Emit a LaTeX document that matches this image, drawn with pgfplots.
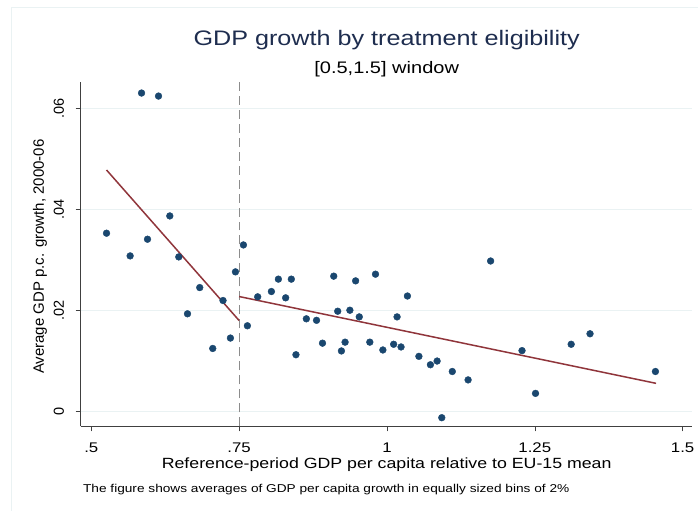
\documentclass[border=0pt]{standalone}
\usepackage{pgfplots}
\pgfplotsset{compat=1.18}
\usepackage{fontspec}
\setmainfont{Liberation Sans}
\definecolor{stnavy}{HTML}{1A476F}
\definecolor{stmaroon}{HTML}{90353B}
\definecolor{stgrid}{HTML}{EAF2F3}
\definecolor{sttitle}{HTML}{1E2D4F}
\newcommand{\wide}[1]{\scalebox{1.2}[1]{#1}}
\begin{document}
\begin{tikzpicture}
\fill[white] (0pt,0pt) rectangle (699pt,511pt);
\draw[stgrid, line width=1.2pt] (11.5pt,0pt) -- (11.5pt,503.5pt) -- (699pt,503.5pt);
\begin{axis}[
    at={(80.7pt,84.3pt)}, anchor=south west,
    width=612pt, height=344.7pt, scale only axis,
    xmin=0.482, xmax=1.516,
    ymin=-0.00296, ymax=0.0652,
    axis x line*=bottom, axis y line*=left,
    axis line style={black!75, -},
    xtick={0.5,0.75,1,1.25,1.5},
    xticklabels={\wide{.5},\wide{.75},\wide{1},\wide{1.25},\wide{1.5}},
    ytick={0,0.02,0.04,0.06},
    yticklabels={0,.02,.04,.06},
    scaled y ticks=false,
    yticklabel style={rotate=90, anchor=south, font=\fontsize{14.5}{14.5}\selectfont},
    xticklabel style={font=\fontsize{14}{14}\selectfont},
    xticklabel shift=8pt,
    yticklabel shift=8pt,
    tick align=outside, major tick length=5pt,
    tick style={black!75, line width=0.6pt},
    ymajorgrids, grid style={stgrid, line width=1pt},
    clip=false,
  ]
  % vertical cutoff
  \addplot[gray!90, line width=1pt, dash pattern=on 9pt off 5pt] coordinates {(0.75,-0.00296) (0.75,0.0652)};
  % binned averages
  \addplot[only marks, mark=*, mark size=3.4pt, color=stnavy] coordinates {
    (0.5258,0.03526) (0.585,0.0630) (0.6137,0.0624) (0.5657,0.03077)
    (0.5951,0.03407) (0.6328,0.03868) (0.648,0.03057) (0.6627,0.01931)
    (0.6834,0.0245) (0.7054,0.01245) (0.7228,0.02194) (0.7353,0.01451)
    (0.7438,0.02761) (0.7573,0.03294) (0.764,0.01694) (0.7814,0.02267)
    (0.8046,0.02372) (0.8164,0.02617) (0.8287,0.02247) (0.8383,0.02617)
    (0.8461,0.01121) (0.8637,0.01832) (0.8809,0.01802) (0.891,0.0135)
    (0.91,0.02676) (0.9167,0.01982) (0.923,0.01196) (0.9292,0.0137)
    (0.9373,0.02002) (0.947,0.02583) (0.9532,0.0187) (0.971,0.0137)
    (0.9806,0.02715) (0.9931,0.01215) (1.0113,0.01328) (1.0171,0.0187)
    (1.0238,0.01275) (1.0346,0.02283) (1.054,0.01089) (1.0735,0.00923)
    (1.0848,0.00996) (1.0927,-0.00125) (1.1105,0.00789) (1.1372,0.00623)
    (1.1753,0.02976) (1.2284,0.01202) (1.2512,0.00356) (1.3115,0.01328)
    (1.3434,0.01536) (1.454,0.00789)
  };
  % linear fits
  \addplot[stmaroon, line width=1.5pt] coordinates {(0.5258,0.04777) (0.75,0.01798)};
  \addplot[stmaroon, line width=1.5pt] coordinates {(0.75,0.02273) (1.455,0.00555)};
\end{axis}
\node[text=sttitle, font=\fontsize{21}{21}\selectfont] at (387pt,471pt) {\wide{GDP growth by treatment eligibility}};
\node[font=\fontsize{16.7}{16.7}\selectfont] at (387pt,442pt) {\wide{[0.5,1.5] window}};
\node[font=\fontsize{14.8}{14.8}\selectfont] at (387pt,46pt) {\wide{Reference-period GDP per capita relative to EU-15 mean}};
\node[rotate=90, font=\fontsize{15}{15}\selectfont] at (40pt,254pt) {Average GDP p.c. growth, 2000-06};
\node[anchor=west, font=\fontsize{11.4}{11.4}\selectfont, inner sep=0pt] at (83pt,21pt) {\wide{The figure shows averages of GDP per capita growth in equally sized bins of 2\%}};
\end{tikzpicture}
\end{document}
